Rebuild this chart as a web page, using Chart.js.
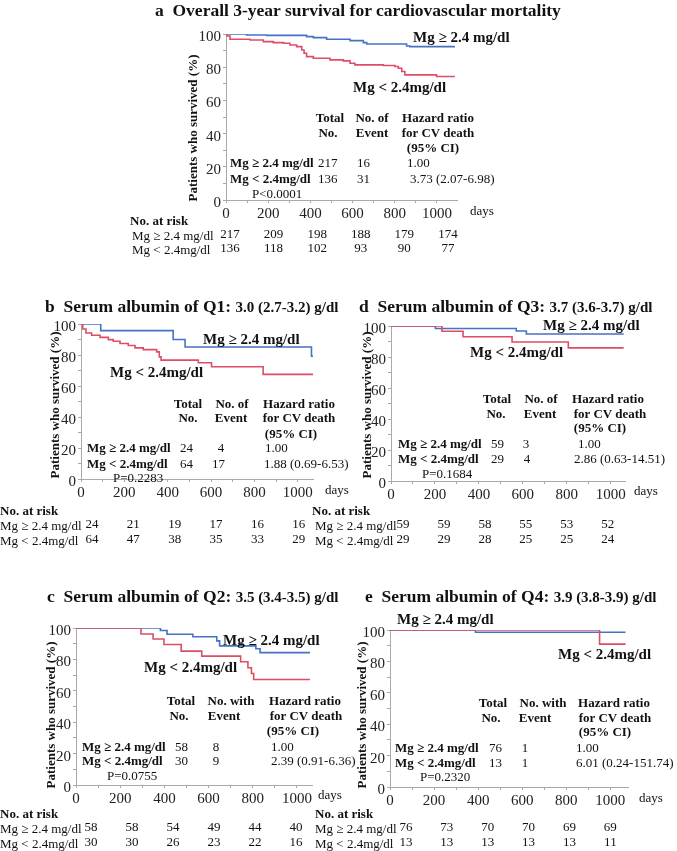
<!DOCTYPE html>
<html>
<head>
<meta charset="utf-8">
<script src="https://cdn.jsdelivr.net/npm/chart.js@4.4.1/dist/chart.umd.min.js"></script>
<style>
html, body { margin: 0; padding: 0; background: #fff; }
#page { position: relative; width: 677px; height: 851px; overflow: hidden;
        font-family: 'Liberation Serif', 'Times New Roman', serif; color: #111; }
canvas { position: absolute; left: 0; top: 0; }
.t { position: absolute; white-space: nowrap; line-height: 1; }
</style>
</head>
<body>
<div id="page"></div>
<script>
// ---- data ----
const riskDays = [0, 200, 400, 600, 800, 1000]

// a: overall
const aHighDays = [0, 98, 193, 382, 414, 477, 588, 651, 667, 856, 872, 1085]
const aHighSurv = [100, 99.4, 99.2, 98.4, 97.8, 96.8, 96.0, 94.8, 94.0, 92.8, 92.4, 92.4]
const aLowDays  = [0, 6, 19, 114, 177, 224, 272, 303, 335, 359, 370, 382, 414, 493, 556, 588, 611, 746, 801, 817, 833, 848, 998, 1085]
const aLowSurv  = [100, 98.8, 96.8, 96.4, 95.4, 94.8, 94.4, 93.4, 92.4, 90.4, 88.4, 86.4, 85.4, 84.4, 83.8, 82.4, 81.4, 81.0, 80.4, 79.4, 77.4, 75.4, 74.4, 74.4]
const aRiskHigh = [217, 209, 198, 188, 179, 174]
const aRiskLow  = [136, 118, 102, 93, 90, 77]

// b: albumin Q1
const bHighDays = [0, 91, 425, 480, 1063, 1070]
const bHighSurv = [100, 95.7, 90.0, 85.2, 79.2, 79.2]
const bLowDays  = [0, 8, 23, 49, 88, 126, 149, 180, 218, 249, 287, 349, 361, 369, 541, 602, 840, 1070]
const bLowSurv  = [100, 96.8, 94.2, 92.7, 91.4, 89.9, 88.9, 87.4, 86.1, 84.6, 83.5, 82.0, 78.8, 76.7, 75.0, 72.4, 67.5, 67.5]
const bRiskHigh = [24, 21, 19, 17, 16, 16]
const bRiskLow  = [64, 47, 38, 35, 33, 29]

// c: albumin Q2
const cHighDays = [0, 382, 412, 529, 637, 650, 814, 833, 1059]
const cHighSurv = [100, 98.4, 96.0, 94.4, 91.8, 88.6, 86.8, 84.3, 84.3]
const cLowDays  = [0, 294, 349, 398, 476, 569, 745, 778, 794, 804, 1059]
const cLowSurv  = [100, 96.2, 93.0, 89.5, 85.3, 82.1, 78.5, 74.7, 71.0, 67.2, 67.2]
const cRiskHigh = [58, 58, 54, 49, 44, 40]
const cRiskLow  = [30, 30, 26, 23, 22, 16]

// d: albumin Q3
const dHighDays = [0, 202, 570, 616, 1059]
const dHighSurv = [100, 98.4, 96.8, 94.8, 94.8]
const dLowDays  = [0, 232, 328, 551, 807, 1059]
const dLowSurv  = [100, 96.6, 93.1, 89.7, 85.9, 85.9]
const dRiskHigh = [59, 59, 58, 55, 53, 52]
const dRiskLow  = [29, 29, 28, 25, 25, 24]

// e: albumin Q4
const eHighDays = [0, 388, 1069]
const eHighSurv = [100, 98.6, 98.6]
const eLowDays  = [0, 951, 1069]
const eLowSurv  = [100, 91.0, 91.0]
const eRiskHigh = [76, 73, 70, 70, 69, 69]
const eRiskLow  = [13, 13, 13, 13, 13, 11]

// ---- drawing ----
const BLUE = '#4472C4'
const RED = '#DD4D63'
const AXIS = '#a9a9a9'
const FONT = "'Liberation Serif', 'Times New Roman', serif"
const page = document.getElementById('page')

function T(txt, x, y, o) {
  o = o || {}
  var d = document.createElement('div')
  d.className = 't'
  if (o.html) d.innerHTML = txt; else d.textContent = txt
  d.style.left = x + 'px'
  d.style.top = y + 'px'
  d.style.fontSize = (o.s || 13) + 'px'
  if (o.b) d.style.fontWeight = 'bold'
  var ax = o.a === 'c' ? '-50%' : (o.a === 'r' ? '-100%' : '0')
  d.style.transform = 'translate(' + ax + ',-50%)' + (o.rot ? ' rotate(-90deg)' : '')
  page.appendChild(d)
}

function pts(days, surv) {
  return days.map(function (d, i) { return { x: d, y: surv[i] } })
}

function evenTicks(step, last) {
  var out = []
  for (var v = 0; v <= last; v += step) out.push({ value: v })
  return out
}

function makePanel(p) {
  var cv = document.createElement('canvas')
  cv.width = 677; cv.height = 851
  page.appendChild(cv)
  var yW = 40, xH = 24
  var tickFont = { family: FONT, size: 15 }

  var riskTable = {
    id: 'riskTable',
    afterDraw: function (chart) {
      var ctx = chart.ctx, sx = chart.scales.x
      ctx.save()
      ctx.fillStyle = '#111'
      ctx.font = '13px ' + FONT
      ctx.textAlign = 'center'
      ctx.textBaseline = 'middle'
      riskDays.forEach(function (d, i) {
        var x = sx.getPixelForValue(d) + p.riskOff[0] + p.riskOff[1] * d
        ctx.fillText(String(p.riskHigh[i]), x, p.riskY[0])
        ctx.fillText(String(p.riskLow[i]), x, p.riskY[1])
      })
      ctx.textAlign = 'left'
      ctx.fillText('days', chart.chartArea.right + p.daysDx, p.daysY)
      ctx.restore()
    }
  }

  new Chart(cv, {
    type: 'line',
    data: {
      datasets: [
        { data: pts(p.lowDays, p.lowSurv), borderColor: RED, stepped: 'before' },
        { data: pts(p.highDays, p.highSurv), borderColor: BLUE, stepped: 'before' }
      ]
    },
    options: {
      responsive: false,
      animation: false,
      devicePixelRatio: 1,
      layout: { padding: { left: p.area[0] - yW, top: p.area[1], right: 677 - p.area[2], bottom: 851 - p.area[3] - xH } },
      plugins: { legend: { display: false }, tooltip: { enabled: false } },
      elements: { point: { radius: 0 }, line: { borderWidth: 1.6, fill: false } },
      scales: {
        x: {
          type: 'linear', min: 0, max: p.xMax,
          afterFit: function (s) { s.height = xH },
          afterBuildTicks: function (s) { s.ticks = evenTicks(100, 1000) },
          ticks: { autoSkip: false, maxRotation: 0, padding: 2, color: '#222', font: tickFont,
                   callback: function (v) { return v % 200 === 0 ? String(v) : '' } },
          grid: { drawOnChartArea: false, tickLength: 3, color: AXIS },
          border: { color: AXIS }
        },
        y: {
          min: 0, max: 100,
          afterFit: function (s) { s.width = yW },
          afterBuildTicks: function (s) { s.ticks = evenTicks(10, 100) },
          ticks: { autoSkip: false, padding: 2, labelOffset: 3, color: '#222', font: tickFont,
                   callback: function (v) { return v % 20 === 0 ? String(v) : '' } },
          grid: { drawOnChartArea: false, tickLength: 3, color: AXIS },
          border: { color: AXIS }
        }
      }
    },
    plugins: [riskTable]
  })
}

// panel a
makePanel({ area: [226, 34, 457, 200], xMax: 1095,
  highDays: aHighDays, highSurv: aHighSurv, lowDays: aLowDays, lowSurv: aLowSurv,
  riskHigh: aRiskHigh, riskLow: aRiskLow, riskY: [235, 249], riskOff: [4, 0.007], daysDx: 13, daysY: 212 })
T('a&nbsp;&nbsp;Overall 3-year survival for cardiovascular mortality', 155, 11, { s: 17.5, b: 1, html: 1 })
T('Patients who survived (%)', 192, 128, { b: 1, a: 'c', rot: 1 })
T('Mg ≥ 2.4 mg/dl', 413, 37, { s: 15, b: 1 })
T('Mg &lt; 2.4mg/dl', 353, 87, { s: 15, b: 1, html: 1 })
T('Total', 330, 117, { b: 1, a: 'c' }); T('No.', 328, 132, { b: 1, a: 'c' })
T('No. of', 372, 117, { b: 1, a: 'c' }); T('Event', 372, 132, { b: 1, a: 'c' })
T('Hazard ratio', 438, 117, { b: 1, a: 'c' }); T('for CV death', 438, 132, { b: 1, a: 'c' })
T('(95% CI)', 433, 147, { b: 1, a: 'c' })
T('Mg ≥ 2.4 mg/dl', 230, 162, { b: 1 }); T('217', 318, 162); T('16', 357, 162); T('1.00', 407, 162)
T('Mg &lt; 2.4mg/dl', 230, 178, { b: 1, html: 1 }); T('136', 318, 178); T('31', 357, 178); T('3.73 (2.07-6.98)', 410, 178)
T('P&lt;0.0001', 252, 193, { html: 1 })
T('No. at risk', 130, 220, { b: 1 })
T('Mg ≥ 2.4 mg/dl', 132, 235); T('Mg &lt; 2.4mg/dl', 132, 249, { html: 1 })

// panel b
makePanel({ area: [81, 324, 313, 479], xMax: 1070,
  highDays: bHighDays, highSurv: bHighSurv, lowDays: bLowDays, lowSurv: bLowSurv,
  riskHigh: bRiskHigh, riskLow: bRiskLow, riskY: [525, 540], riskOff: [11, -0.010], daysDx: 12, daysY: 491 })
T('b&nbsp;&nbsp;Serum albumin of Q1: <span style="font-size:15px">3.0 (2.7-3.2) g/dl</span>', 45, 307, { s: 17.5, b: 1, html: 1 })
T('Patients who survived (%)', 54, 405, { b: 1, a: 'c', rot: 1 })
T('Mg ≥ 2.4 mg/dl', 203, 339, { s: 15, b: 1 })
T('Mg &lt; 2.4mg/dl', 110, 372, { s: 15, b: 1, html: 1 })
T('Total', 188, 403, { b: 1, a: 'c' }); T('No.', 188, 417, { b: 1, a: 'c' })
T('No. of', 232, 403, { b: 1, a: 'c' }); T('Event', 231, 417, { b: 1, a: 'c' })
T('Hazard ratio', 299, 403, { b: 1, a: 'c' }); T('for CV death', 299, 417, { b: 1, a: 'c' })
T('(95% CI)', 291, 433, { b: 1, a: 'c' })
T('Mg ≥ 2.4 mg/dl', 87, 447, { b: 1 }); T('24', 180, 447); T('4', 221, 447, { a: 'c' }); T('1.00', 265, 447)
T('Mg &lt; 2.4mg/dl', 87, 463, { b: 1, html: 1 }); T('64', 180, 463); T('17', 212, 463); T('1.88 (0.69-6.53)', 264, 463)
T('P=0.2283', 113, 477)
T('No. at risk', 0, 510, { b: 1 })
T('Mg ≥ 2.4 mg/dl', 0, 525); T('Mg &lt; 2.4mg/dl', 0, 540, { html: 1 })

// panel d
makePanel({ area: [391, 326, 625, 481], xMax: 1065,
  highDays: dHighDays, highSurv: dHighSurv, lowDays: dLowDays, lowSurv: dLowSurv,
  riskHigh: dRiskHigh, riskLow: dRiskLow, riskY: [525, 540], riskOff: [12, -0.015], daysDx: 9, daysY: 492 })
T('d&nbsp;&nbsp;Serum albumin of Q3: <span style="font-size:15px">3.7 (3.6-3.7) g/dl</span>', 359, 307, { s: 17.5, b: 1, html: 1 })
T('Patients who survived (%)', 366, 405, { b: 1, a: 'c', rot: 1 })
T('Mg ≥ 2.4 mg/dl', 543, 325, { s: 15, b: 1 })
T('Mg &lt; 2.4mg/dl', 470, 352, { s: 15, b: 1, html: 1 })
T('Total', 497, 398, { b: 1, a: 'c' }); T('No.', 496, 413, { b: 1, a: 'c' })
T('No. of', 541, 398, { b: 1, a: 'c' }); T('Event', 540, 413, { b: 1, a: 'c' })
T('Hazard ratio', 608, 398, { b: 1, a: 'c' }); T('for CV death', 610, 413, { b: 1, a: 'c' })
T('(95% CI)', 600, 427, { b: 1, a: 'c' })
T('Mg ≥ 2.4 mg/dl', 398, 443, { b: 1 }); T('59', 491, 443); T('3', 526, 443, { a: 'c' }); T('1.00', 578, 443)
T('Mg &lt; 2.4mg/dl', 398, 458, { b: 1, html: 1 }); T('29', 491, 458); T('4', 527, 458, { a: 'c' }); T('2.86 (0.63-14.51)', 574, 458)
T('P=0.1684', 422, 473)
T('No. at risk', 312, 510, { b: 1 })
T('Mg ≥ 2.4 mg/dl', 315, 525); T('Mg &lt; 2.4mg/dl', 315, 540, { html: 1 })

// panel c
makePanel({ area: [76, 628, 312, 785], xMax: 1068,
  highDays: cHighDays, highSurv: cHighSurv, lowDays: cLowDays, lowSurv: cLowSurv,
  riskHigh: cRiskHigh, riskLow: cRiskLow, riskY: [828, 843], riskOff: [15, -0.016], daysDx: 6, daysY: 796 })
T('c&nbsp;&nbsp;Serum albumin of Q2: <span style="font-size:15px">3.5 (3.4-3.5) g/dl</span>', 47, 597, { s: 17.5, b: 1, html: 1 })
T('Patients who survived (%)', 50, 715, { b: 1, a: 'c', rot: 1 })
T('Mg ≥ 2.4 mg/dl', 223, 640, { s: 15, b: 1 })
T('Mg &lt; 2.4mg/dl', 144, 667, { s: 15, b: 1, html: 1 })
T('Total', 181, 700, { b: 1, a: 'c' }); T('No.', 179, 715, { b: 1, a: 'c' })
T('No. with', 231, 700, { b: 1, a: 'c' }); T('Event', 224, 715, { b: 1, a: 'c' })
T('Hazard ratio', 305, 700, { b: 1, a: 'c' }); T('for CV death', 306, 715, { b: 1, a: 'c' })
T('(95% CI)', 293, 730, { b: 1, a: 'c' })
T('Mg ≥ 2.4 mg/dl', 82, 746, { b: 1 }); T('58', 175, 746); T('8', 216, 746, { a: 'c' }); T('1.00', 271, 746)
T('Mg &lt; 2.4mg/dl', 82, 760, { b: 1, html: 1 }); T('30', 175, 760); T('9', 216, 760, { a: 'c' }); T('2.39 (0.91-6.36)', 271, 760)
T('P=0.0755', 107, 775)
T('No. at risk', 0, 813, { b: 1 })
T('Mg ≥ 2.4 mg/dl', 0, 828); T('Mg &lt; 2.4mg/dl', 0, 843, { html: 1 })

// panel e
makePanel({ area: [390, 630, 628, 787], xMax: 1080,
  highDays: eHighDays, highSurv: eHighSurv, lowDays: eLowDays, lowSurv: eLowSurv,
  riskHigh: eRiskHigh, riskLow: eRiskLow, riskY: [828, 843], riskOff: [16, -0.016], daysDx: 11, daysY: 799 })
T('e&nbsp;&nbsp;Serum albumin of Q4: <span style="font-size:15px">3.9 (3.8-3.9) g/dl</span>', 365, 597, { s: 17.5, b: 1, html: 1 })
T('Patients who survived (%)', 361, 715, { b: 1, a: 'c', rot: 1 })
T('Mg ≥ 2.4 mg/dl', 397, 619, { s: 15, b: 1 })
T('Mg &lt; 2.4mg/dl', 558, 654, { s: 15, b: 1, html: 1 })
T('Total', 493, 702, { b: 1, a: 'c' }); T('No.', 491, 717, { b: 1, a: 'c' })
T('No. with', 543, 702, { b: 1, a: 'c' }); T('Event', 535, 717, { b: 1, a: 'c' })
T('Hazard ratio', 614, 702, { b: 1, a: 'c' }); T('for CV death', 615, 717, { b: 1, a: 'c' })
T('(95% CI)', 605, 731, { b: 1, a: 'c' })
T('Mg ≥ 2.4 mg/dl', 395, 747, { b: 1 }); T('76', 489, 747); T('1', 525, 747, { a: 'c' }); T('1.00', 576, 747)
T('Mg &lt; 2.4mg/dl', 395, 762, { b: 1, html: 1 }); T('13', 489, 762); T('1', 525, 762, { a: 'c' }); T('6.01 (0.24-151.74)', 576, 762)
T('P=0.2320', 420, 776)
T('No. at risk', 315, 813, { b: 1 })
T('Mg ≥ 2.4 mg/dl', 315, 828); T('Mg &lt; 2.4mg/dl', 315, 843, { html: 1 })
</script>
</body>
</html>
